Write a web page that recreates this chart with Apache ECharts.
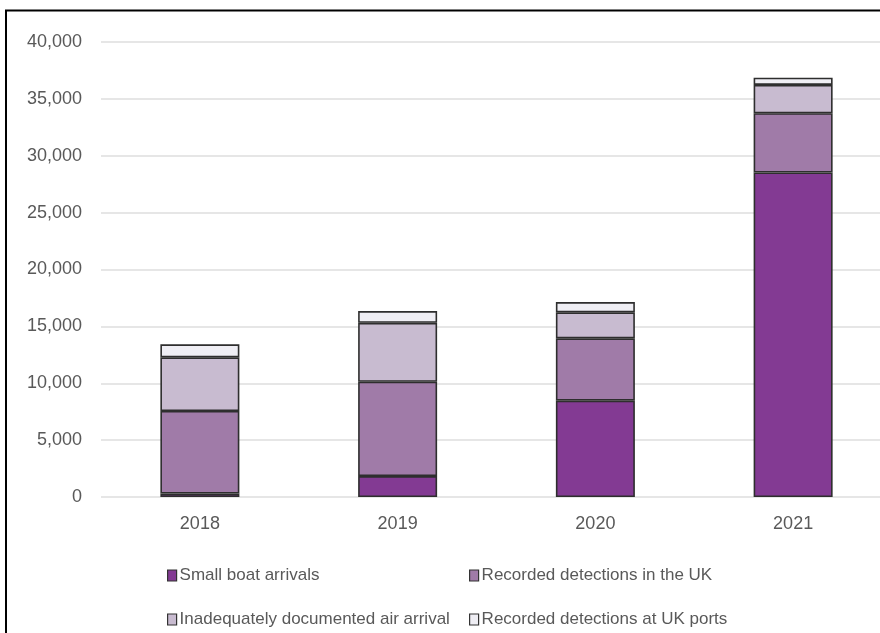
<!DOCTYPE html>
<html>
<head>
<meta charset="utf-8">
<script src="https://cdn.jsdelivr.net/npm/echarts@6/dist/echarts.min.js"></script>
<style>
  html, body { margin: 0; padding: 0; background: #fff; overflow: hidden; }
  /* the canvas is a little wider than the window so the plot runs off the right edge */
  #chart { width: 892px; height: 633px; }
</style>
</head>
<body>
<div id="chart"></div>
<script>
// Irregular arrivals to the UK by method of entry
const years = ['2018', '2019', '2020', '2021'];
const smallBoat = [299, 1843, 8466, 28526];
const detectionsUK = [7260, 8290, 5480, 5210];
const inadequateAir = [4720, 5180, 2290, 2490];
const detectionsPorts = [1140, 1030, 900, 640];
const yTicks = [0, 5000, 10000, 15000, 20000, 25000, 30000, 35000, 40000];

const seriesNames = [
  'Small boat arrivals',
  'Recorded detections in the UK',
  'Inadequately documented air arrival',
  'Recorded detections at UK ports'
];
const seriesData = [smallBoat, detectionsUK, inadequateAir, detectionsPorts];
const colors = ['#833a93', '#a07ba8', '#c8bbd0', '#efeef4'];

const chart = echarts.init(document.getElementById('chart'), null, { renderer: 'canvas' });

const textFont = 'Liberation Sans, Arial, Helvetica, sans-serif';

const legendPos = [
  { left: 167, top: 567 },
  { left: 469, top: 567 },
  { left: 167, top: 611 },
  { left: 469, top: 611 }
];

const option = {
  animation: false,
  backgroundColor: '#ffffff',
  textStyle: { fontFamily: textFont },
  grid: { left: 101, right: 0, top: 42, height: 455, containLabel: false },
  xAxis: {
    type: 'category',
    data: years,
    axisLine: { show: false },
    axisTick: { show: false },
    axisLabel: { color: '#595959', fontSize: 18, margin: 18, fontFamily: textFont }
  },
  yAxis: {
    type: 'value',
    min: yTicks[0],
    max: yTicks[yTicks.length - 1],
    interval: yTicks[1] - yTicks[0],
    axisLine: { show: false },
    axisTick: { show: false },
    splitLine: { lineStyle: { color: '#e6e6e6', width: 2 } },
    axisLabel: {
      color: '#595959', fontSize: 18, margin: 19, fontFamily: textFont,
      formatter: v => v.toLocaleString('en-US')
    }
  },
  legend: seriesNames.map((name, i) => ({
    data: [name],
    left: legendPos[i].left,
    top: legendPos[i].top,
    padding: 0,
    icon: 'rect',
    itemWidth: 9,
    itemHeight: 11,
    itemGap: 4,
    selectedMode: false,
    textStyle: { color: '#595959', fontSize: 17, fontFamily: textFont, padding: [0, 0, 0, -2] },
    itemStyle: { borderColor: '#333333', borderWidth: 1.2 }
  })),
  series: seriesNames.map((name, i) => ({
    name: name,
    type: 'bar',
    stack: 'total',
    data: seriesData[i],
    barWidth: 79,
    itemStyle: { color: colors[i], borderColor: '#2e2e2e', borderWidth: 1.6 }
  })),
  graphic: [{
    type: 'rect',
    silent: true,
    z: 100,
    shape: { x: 6, y: 10.5, width: 1000, height: 800 },
    style: { fill: 'none', stroke: '#000000', lineWidth: 2 }
  }]
};

chart.setOption(option);
</script>
</body>
</html>
